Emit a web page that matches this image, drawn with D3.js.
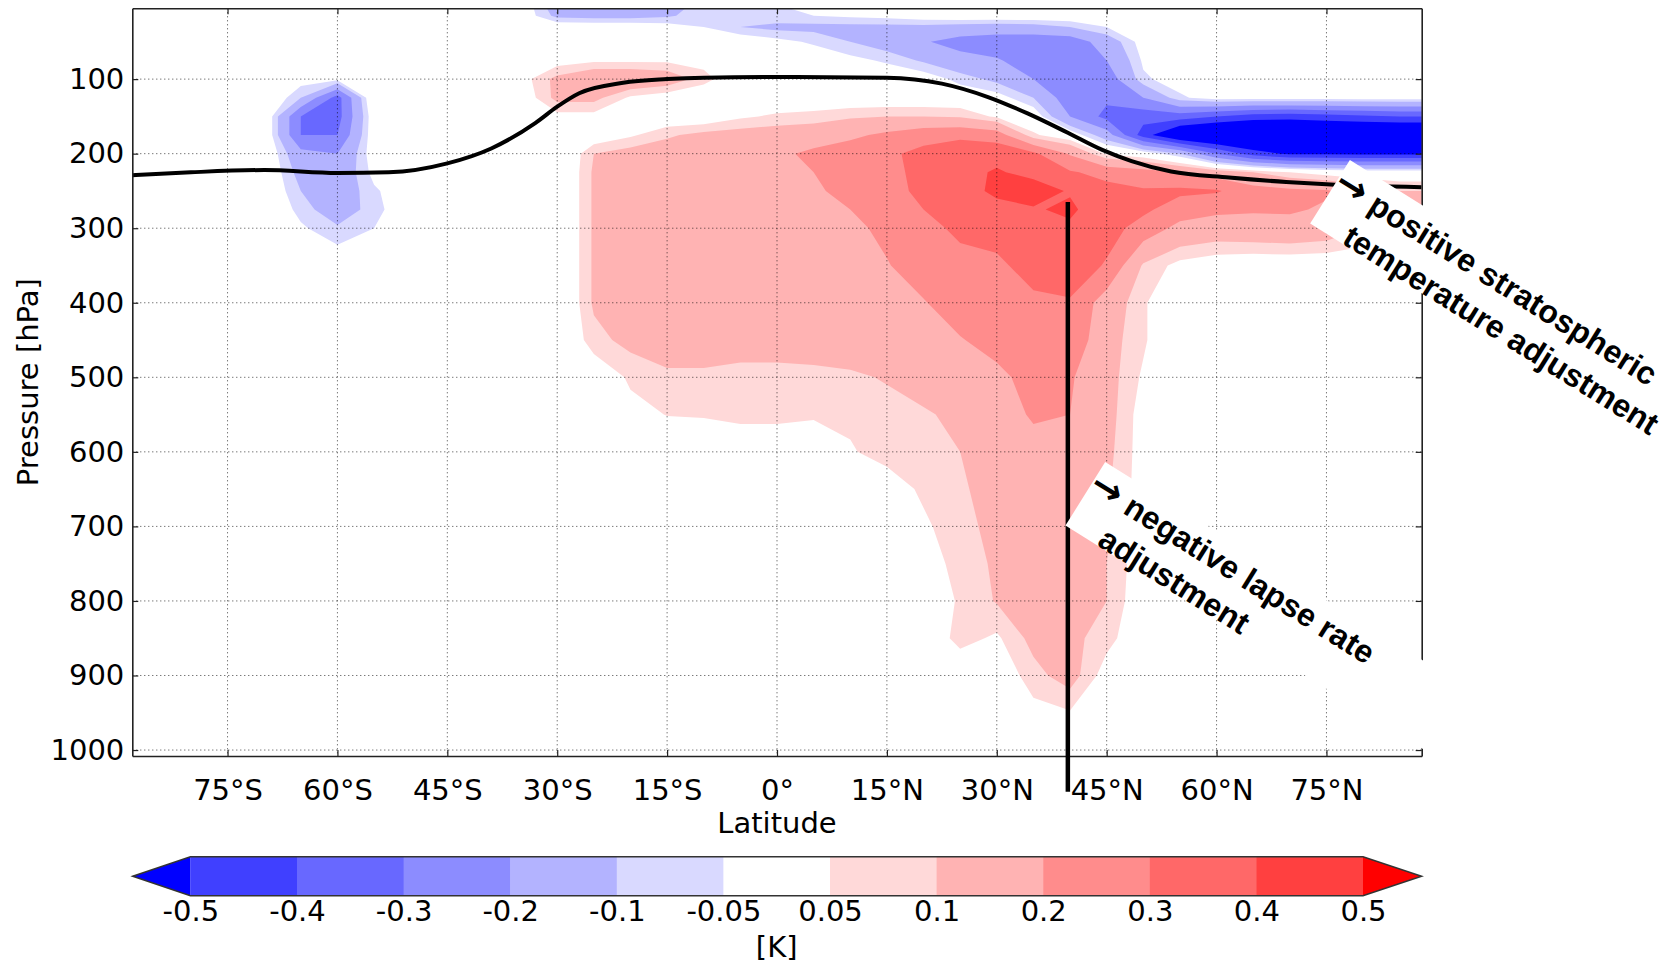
<!DOCTYPE html>
<html>
<head>
<meta charset="utf-8">
<script src="https://cdn.jsdelivr.net/npm/d3@7"></script>
<style>
  body { margin: 0; background: #fff; }
  svg { display: block; }
</style>
</head>
<body>
<svg id="chart"></svg>
<script>
var width = 1678, height = 964;

// Latitudes of the field columns (deg, S negative)
var lats = [-90,-85,-80,-75,-70,-65,-60,-55,-50,-45,-40,-35,-30,-25,-20,-15,-10,-5,0,5,10,15,20,25,30,35,40,45,50,55,60,65,70,75,80,85,90];

// Pressure levels of the field rows (hPa), top to bottom
var levels = [5,15,30,50,75,100,125,150,175,200,225,250,275,300,350,400,450,500,550,600,650,700,750,800,850,900,950,1010];

// Temperature response [K], one row per pressure level, one value per latitude
var dT5    = [0,0,0,0,0,0,0,0,0,0, 0,0, -0.14,-0.15,-0.15,-0.12,-0.08,-0.07,-0.06,-0.03, 0,0,0,0,0,0,0,0,0,0, 0,0,0,0,0,0,0];
var dT15   = [0,0,0,0,0,0,0,0,0,0, 0,0, -0.12,-0.13,-0.13,-0.11,-0.07,-0.06,-0.06,-0.05,-0.04,-0.03,-0.01, 0,0,0,0,0,0,0,0,0,0, 0,0,0,0];
var dT30   = [0,0,0,0,0,0,0,0,0,0, 0,0,0,0,0, -0.02,-0.05,-0.1,-0.12,-0.12,-0.12,-0.12,-0.12,-0.13,-0.14,-0.13,-0.1,-0.05, 0,0,0,0,0,0,0,0,0];
var dT50   = [0,0,0,0,0,0,0,0,0,0, 0,0,0,0,0,0,0,0, -0.03,-0.06,-0.1,-0.14,-0.19,-0.24,-0.26,-0.27,-0.26,-0.15,-0.02, 0,0,0,0,0,0,0,0];
var dT75   = [0,0,0,0,0,0,0,0,0,0, 0,0, 0.02,0.04,0.04,0.04,0.03, 0,0,0, -0.03,-0.06,-0.11,-0.16,-0.19,-0.25,-0.27,-0.2,-0.04, 0,0,0,0,0,0,0,0];
var dT100  = [0,0,0,0,0, -0.02,-0.03, 0,0,0,0, 0.02,0.12,0.17,0.17,0.15,0.07,0, 0,0,0,0, -0.01,-0.07,-0.12,-0.2,-0.27,-0.26,-0.06,-0.02, 0,0,0,0,0,0,0];
var dT125  = [0,0,0,0, 0.03,-0.1,-0.34,0.03, 0,0,0,0, 0.12,0.12,0.04,0.01, 0,0,0,0,0,0,0,0, -0.02,-0.1,-0.26,-0.28,-0.2,-0.06, -0.02,-0.02,-0.02,-0.02,-0.02,-0.02,-0.02];
var dT150  = [0,0,0,0, 0.02,-0.3,-0.34,0, 0,0,0,0, 0.03,0.03, 0,0,0, 0.04,0.06,0.07,0.09,0.1,0.1,0.09,0.04, 0, -0.2,-0.33,-0.36,-0.35,-0.4,-0.45,-0.46,-0.44,-0.42,-0.4,-0.4];
var dT175  = [0,0,0,0, 0.02,-0.3,-0.3,0, 0,0,0,0,0,0, 0.04,0.09,0.12,0.13,0.14,0.15,0.18,0.22,0.26,0.28,0.25,0.06, 0, -0.15,-0.45,-0.65, -0.7,-0.7,-0.7,-0.7,-0.7,-0.7,-0.7];
var dT200  = [0,0,0,0, 0.02,-0.17,-0.2,-0.01, 0,0,0,0,-0.04, 0.1,0.13,0.14,0.14,0.15,0.18,0.22,0.25,0.28,0.33,0.36,0.37,0.32,0.19,0.04, 0, -0.1,-0.3,-0.45, -0.52,-0.52,-0.52,-0.52,-0.52];
var dT225  = [0,0,0,0, 0.02,-0.13,-0.17,-0.03, 0,0,0,0,-0.04, 0.11,0.14,0.14,0.14,0.14,0.17,0.2,0.24,0.27,0.33,0.37,0.41,0.37,0.31,0.27,0.24,0.2,0.15,0.1,0.05,0.02, 0,0,0];
var dT250  = [0,0,0,0, 0.02,-0.1,-0.16,-0.06, 0,0,0,0, -0.04,0.11,0.14,0.14,0.14,0.15,0.17,0.19,0.22,0.27,0.32,0.36,0.42,0.45,0.39,0.33,0.31,0.32,0.31,0.24,0.22,0.21,0.15,0.1,0.1];
var dT275  = [0,0,0,0, 0.02,-0.07,-0.15,-0.07, 0,0,0,0, -0.04,0.11,0.14,0.14,0.15,0.15,0.17,0.18,0.2,0.25,0.3,0.33,0.37,0.39,0.42,0.33,0.32,0.25,0.22,0.21,0.21,0.19,0.13,0.1,0.1];
var dT300  = [0,0,0,0,0, -0.04,-0.09,-0.05, 0,0,0,0, -0.04,0.11,0.14,0.14,0.15,0.15,0.16,0.17,0.18,0.22,0.27,0.32,0.34,0.36,0.38,0.34,0.26,0.17,0.15,0.16,0.17,0.15,0.1,0.06,0.05];
var dT350  = [0,0,0,0,0,0,0,0,0,0, 0,0, -0.04,0.11,0.14,0.14,0.14,0.15,0.15,0.16,0.17,0.195,0.24,0.27,0.28,0.34,0.36,0.29,0.09,0.03,0.01,0, 0,0,0,0,0];
var dT400  = [0,0,0,0,0,0,0,0,0,0, 0,0, -0.04,0.11,0.13,0.14,0.14,0.14,0.15,0.15,0.16,0.18,0.195,0.24,0.27,0.28,0.29,0.15,0.06, -0.03,0,0,0,0,0,0,0];
var dT450  = [0,0,0,0,0,0,0,0,0,0, 0,0,-0.03, 0.08,0.12,0.13,0.13,0.13,0.13,0.13,0.14,0.16,0.18,0.195,0.23,0.27,0.27,0.13,0.06, -0.03,0,0,0,0,0,0,0];
var dT500  = [0,0,0,0,0,0,0,0,0,0, 0,0,0,0, 0.06,0.09,0.09,0.08,0.08,0.085,0.09,0.105,0.14,0.16,0.18,0.23,0.21,0.13,0.04, 0,0,0,0,0,0,0,0];
var dT550  = [0,0,0,0,0,0,0,0,0,0, 0,0,0,0, 0.03,0.052,0.055,0.06,0.06,0.055,0.06,0.08,0.09,0.12,0.16,0.21,0.2,0.13,0.02, 0,0,0,0,0,0,0,0];
var dT600  = [0,0,0,0,0,0,0,0,0,0, 0,0,0,0,0,0,0, 0.02,0.02,0.02,0.045,0.07,0.08,0.1,0.14,0.17,0.16,0.12,0.02, 0,0,0,0,0,0,0,0];
var dT650  = [0,0,0,0,0,0,0,0,0,0, 0,0,0,0,0,0,0,0,0,0, 0, 0.02,0.06,0.09,0.13,0.15,0.15,0.11,0.02, 0,0,0,0,0,0,0,0];
var dT700  = [0,0,0,0,0,0,0,0,0,0, 0,0,0,0,0,0,0,0,0,0, 0,0, 0.04,0.08,0.12,0.14,0.14,0.11,0.02, 0,0,0,0,0,0,0,0];
var dT750  = [0,0,0,0,0,0,0,0,0,0, 0,0,0,0,0,0,0,0,0,0, 0,0, 0.02,0.07,0.11,0.13,0.13,0.1,0.01, 0,0,0,0,0,0,0,0];
var dT800  = [0,0,0,0,0,0,0,0,0,0, 0,0,0,0,0,0,0,0,0,0, 0,0, 0.02,0.055,0.105,0.12,0.12,0.1, 0,0,0,0,0,0,0,0,0];
var dT850  = [0,0,0,0,0,0,0,0,0,0, 0,0,0,0,0,0,0,0,0,0, 0,0,0, 0.07,0.04,0.12,0.12,0.07, 0,0,0,0,0,0,0,0,0];
var dT900  = [0,0,0,0,0,0,0,0,0,0, 0,0,0,0,0,0,0,0,0,0, 0,0,0,0,0, 0.08,0.13,0.02, 0,0,0,0,0,0,0,0,0];
var dT950  = [0,0,0,0,0,0,0,0,0,0, 0,0,0,0,0,0,0,0,0,0, 0,0,0,0,0, 0.03,0.045, 0,0,0,0,0,0,0,0,0,0];
var dT1010 = [0,0,0,0,0,0,0,0,0,0, 0,0,0,0,0,0,0,0,0,0, 0,0,0,0,0,0,0,0,0,0, 0,0,0,0,0,0,0];

var field = [dT5, dT15, dT30, dT50, dT75, dT100, dT125, dT150, dT175, dT200, dT225, dT250, dT275,
  dT300, dT350, dT400, dT450, dT500, dT550, dT600, dT650, dT700, dT750, dT800, dT850, dT900, dT950, dT1010];

// Contour levels and the colour of each band (below first, between, above last)
var contourLevels = [-0.5, -0.4, -0.3, -0.2, -0.1, -0.05, 0.05, 0.1, 0.2, 0.3, 0.4, 0.5];
var bandColors = ["#0000ff", "#4040ff", "#6868ff", "#8c8cff", "#b3b3ff", "#d9d9ff", "#ffffff",
  "#ffd9d9", "#ffb3b3", "#ff8c8c", "#ff6868", "#ff4040", "#ff0000"];

// Tropopause (black line)
var tropLat = [-88, -80, -70, -60, -53, -45, -39, -33, -30, -27, -21, -15, -10, 0, 15, 22.5, 28.8, 34.2, 39.7, 44.4, 48.4, 53.8, 61.7, 69.5, 75, 88];
var tropP   = [229, 225, 222, 226, 225, 213, 193, 159, 137, 119, 105, 100, 98, 97, 98, 106, 124, 146, 172, 195, 210, 224, 232, 238, 241, 245];

// Axis ticks
var latTicks = [-75, -60, -45, -30, -15, 0, 15, 30, 45, 60, 75];
var presTicks = [100, 200, 300, 400, 500, 600, 700, 800, 900, 1000];

// Annotations
var markLat = 39.7, markTop = 265, markBottom = 1056;
var notes = [
  { lat: 78.2, p: 208.5, lines: ["positive stratospheric", "temperature adjustment"] },
  { lat: 44.8, p: 613.6, lines: ["negative lapse rate", "adjustment"] }
];

var svg = d3.select("#chart")
  .attr("width", width)
  .attr("height", height)
  .style("font-family", "'DejaVu Sans', sans-serif");

var x = d3.scaleLinear().domain([-88, 88]).range([132.3, 1421.7]);
var y = d3.scaleLinear().domain([5, 1008]).range([8.3, 756]);

svg.append("clipPath").attr("id", "plot")
  .append("rect")
  .attr("x", x.range()[0]).attr("y", y.range()[0])
  .attr("width", x.range()[1] - x.range()[0])
  .attr("height", y.range()[1] - y.range()[0]);

// grid index -> lat / pressure (d3.contours puts values at cell centres)
var latAt = d3.scaleLinear().domain(d3.range(lats.length)).range(lats).clamp(true);
var presAt = d3.scaleLinear().domain(d3.range(levels.length)).range(levels).clamp(true);

var gridPath = d3.geoPath(d3.geoTransform({
  point: function (i, j) {
    this.stream.point(x(latAt(i - 0.5)), y(presAt(j - 0.5)));
  }
}));

var values = [].concat.apply([], field);
var contours = d3.contours().size([lats.length, levels.length]);
var posLevels = contourLevels.filter(function (d) { return d > 0; });
var negLevels = contourLevels.filter(function (d) { return d < 0; }).map(function (d) { return -d; });

var fills = svg.append("g").attr("clip-path", "url(#plot)");

fills.selectAll(null)
  .data(contours.thresholds(posLevels)(values))
  .enter()
  .append("path")
  .attr("d", gridPath)
  .attr("fill", function (d) { return bandColors[contourLevels.indexOf(d.value) + 1]; });

fills.selectAll(null)
  .data(contours.thresholds(negLevels)(values.map(function (v) { return -v; })))
  .enter()
  .append("path")
  .attr("d", gridPath)
  .attr("fill", function (d) { return bandColors[contourLevels.indexOf(-d.value)]; });

// dotted grid
var grid = svg.append("g")
  .attr("stroke", "#000")
  .attr("stroke-opacity", 0.75)
  .attr("stroke-width", 1)
  .attr("stroke-dasharray", "1,3");

grid.selectAll(null).data(latTicks).enter().append("line")
  .attr("x1", x).attr("x2", x)
  .attr("y1", y.range()[0]).attr("y2", y.range()[1]);

grid.selectAll(null).data(presTicks).enter().append("line")
  .attr("y1", y).attr("y2", y)
  .attr("x1", x.range()[0]).attr("x2", x.range()[1]);

// tropopause
var tropLine = d3.line()
  .x(function (d, i) { return x(tropLat[i]); })
  .y(function (d, i) { return y(tropP[i]); })
  .curve(d3.curveMonotoneX);

svg.append("path")
  .datum(tropP)
  .attr("d", tropLine)
  .attr("fill", "none")
  .attr("stroke", "#000")
  .attr("stroke-width", 4)
  .attr("clip-path", "url(#plot)");

// axes
function fmtLat(d) {
  if (d === 0) return "0\u00b0";
  return Math.abs(d) + "\u00b0" + (d < 0 ? "S" : "N");
}

function styleAxis(g) {
  g.attr("font-family", "'DejaVu Sans', sans-serif").attr("font-size", 29);
  g.select(".domain").attr("stroke", "#222").attr("stroke-width", 1.6);
  g.selectAll(".tick line").attr("stroke", "#222").attr("stroke-width", 1.2);
  g.selectAll(".tick text").attr("fill", "#000");
}

svg.append("g")
  .attr("transform", "translate(0," + y.range()[1] + ")")
  .call(d3.axisBottom(x).tickValues(latTicks).tickFormat(fmtLat).tickSizeInner(-6).tickSizeOuter(0).tickPadding(23))
  .call(styleAxis);

svg.append("g")
  .attr("transform", "translate(0," + y.range()[0] + ")")
  .call(d3.axisTop(x).tickValues(latTicks).tickFormat("").tickSizeInner(-6).tickSizeOuter(0))
  .call(styleAxis);

svg.append("g")
  .attr("transform", "translate(" + x.range()[0] + ",0)")
  .call(d3.axisLeft(y).tickValues(presTicks).tickFormat(d3.format("d")).tickSizeInner(-6).tickSizeOuter(0).tickPadding(8))
  .call(styleAxis);

svg.append("g")
  .attr("transform", "translate(" + x.range()[1] + ",0)")
  .call(d3.axisRight(y).tickValues(presTicks).tickFormat("").tickSizeInner(-6).tickSizeOuter(0))
  .call(styleAxis);

svg.append("text")
  .attr("x", x(0)).attr("y", 833)
  .attr("text-anchor", "middle")
  .attr("font-size", 29)
  .text("Latitude");

svg.append("text")
  .attr("transform", "translate(38," + (y.range()[0] + y.range()[1]) / 2 + ") rotate(-90)")
  .attr("text-anchor", "middle")
  .attr("font-size", 29)
  .text("Pressure [hPa]");

// colour bar
var cbTop = 856.7, cbBottom = 895.7, cbMid = (cbTop + cbBottom) / 2;
var cb = d3.scalePoint().domain(d3.range(contourLevels.length)).range([190.4, 1363]);
var tipL = 132.7, tipR = 1421.6;
var cbg = svg.append("g");

cbg.selectAll(null)
  .data(d3.range(contourLevels.length - 1))
  .enter()
  .append("rect")
  .attr("x", function (i) { return cb(i); })
  .attr("y", cbTop)
  .attr("width", function (i) { return cb(i + 1) - cb(i) + 0.5; })
  .attr("height", cbBottom - cbTop)
  .attr("fill", function (i) { return bandColors[i + 1]; });

cbg.append("path")
  .attr("d", "M" + tipL + "," + cbMid + "L" + cb(0) + "," + cbTop + "L" + cb(0) + "," + cbBottom + "Z")
  .attr("fill", bandColors[0]);
cbg.append("path")
  .attr("d", "M" + tipR + "," + cbMid + "L" + cb(11) + "," + cbTop + "L" + cb(11) + "," + cbBottom + "Z")
  .attr("fill", bandColors[12]);

cbg.append("path")
  .attr("d", "M" + tipL + "," + cbMid + "L" + cb(0) + "," + cbTop + "L" + cb(11) + "," + cbTop +
    "L" + tipR + "," + cbMid + "L" + cb(11) + "," + cbBottom + "L" + cb(0) + "," + cbBottom + "Z")
  .attr("fill", "none")
  .attr("stroke", "#333")
  .attr("stroke-width", 1.5);

cbg.append("g")
  .attr("transform", "translate(0," + cbBottom + ")")
  .call(d3.axisBottom(cb).tickFormat(function (i) { return String(contourLevels[i]); }).tickSize(0).tickPadding(5))
  .call(function (g) {
    g.select(".domain").remove();
    g.attr("font-family", "'DejaVu Sans', sans-serif").attr("font-size", 29);
    g.selectAll(".tick text").attr("fill", "#000");
  });

svg.append("text")
  .attr("x", (cb(5) + cb(6)) / 2).attr("y", 957)
  .attr("text-anchor", "middle")
  .attr("font-size", 29)
  .text("[K]");

// annotations
svg.append("line")
  .attr("x1", x(markLat)).attr("x2", x(markLat))
  .attr("y1", y(markTop)).attr("y2", y(markBottom))
  .attr("stroke", "#000")
  .attr("stroke-width", 4.5);

var note = svg.selectAll(null)
  .data(notes)
  .enter()
  .append("g")
  .attr("transform", function (d) { return "translate(" + x(d.lat) + "," + y(d.p) + ") rotate(32)"; });

note.append("rect")
  .attr("x", 0).attr("y", 0)
  .attr("width", 430).attr("height", 75)
  .attr("fill", "#fff");

note.each(function (d) {
  var g = d3.select(this);
  var first = g.append("text")
    .attr("x", 0).attr("y", 34)
    .attr("font-weight", "bold")
    .attr("font-size", 32);
  first.append("tspan")
    .attr("font-family", "'DejaVu Sans', sans-serif")
    .attr("font-size", 38)
    .text("\u2192");
  first.append("tspan")
    .attr("font-family", "'Liberation Sans', Arial, sans-serif")
    .text(" " + d.lines[0]);
  g.append("text")
    .attr("x", 36).attr("y", 75)
    .attr("font-family", "'Liberation Sans', Arial, sans-serif")
    .attr("font-weight", "bold")
    .attr("font-size", 32)
    .text(d.lines[1]);
});
</script>
</body>
</html>
